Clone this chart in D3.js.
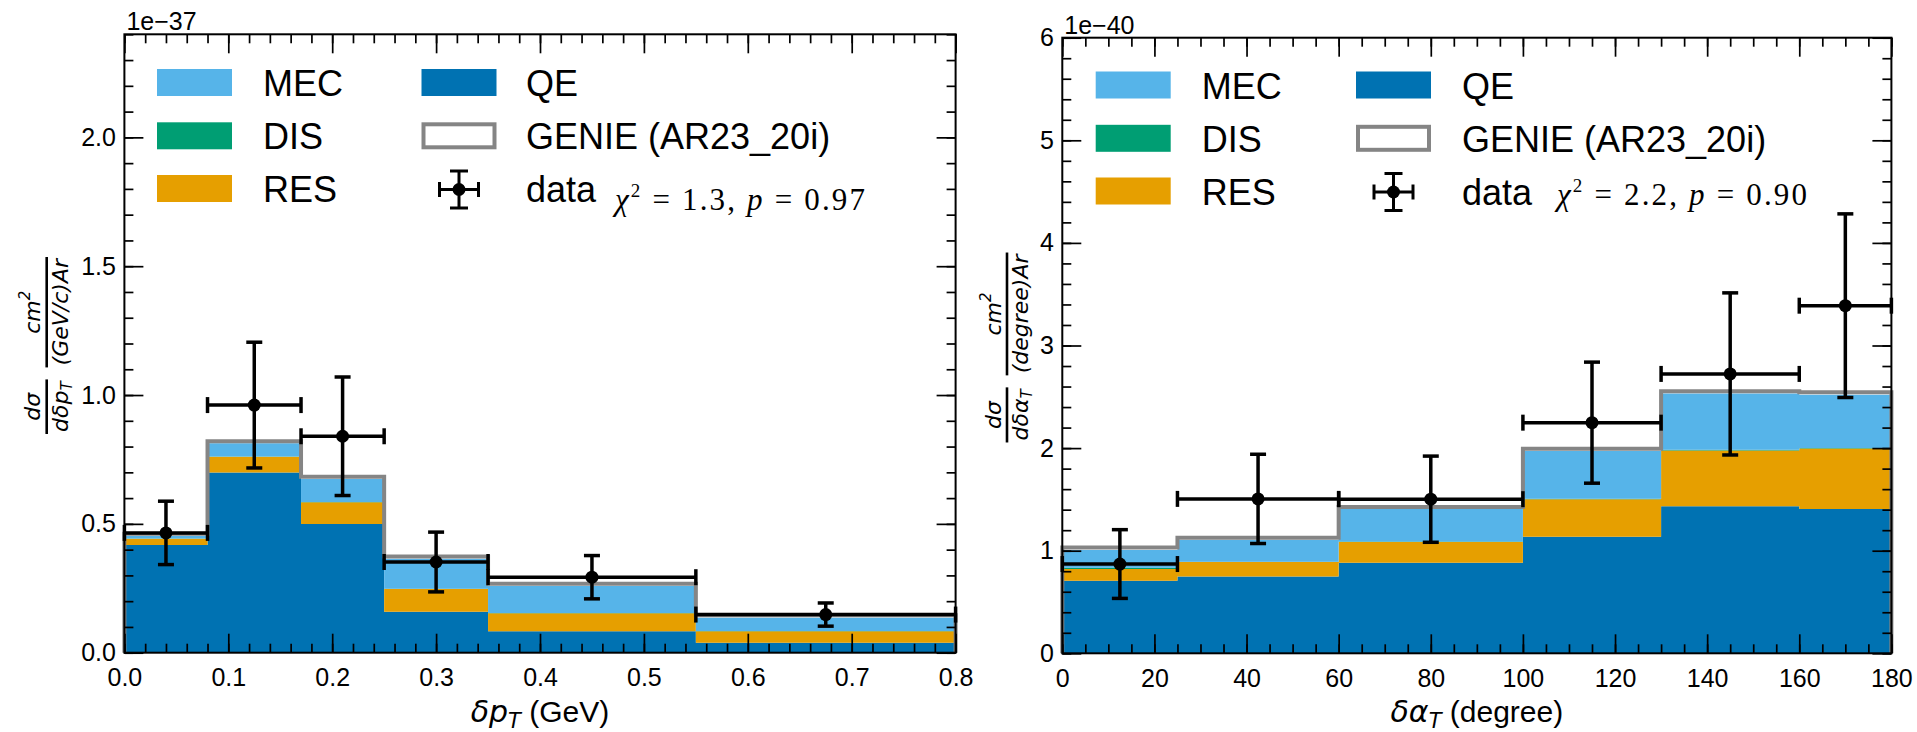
<!DOCTYPE html>
<html><head><meta charset="utf-8">
<script src="https://cdn.jsdelivr.net/npm/d3@7"></script>
<style>body{margin:0;background:#fff} svg{display:block}</style>
</head><body>
<svg id="c" width="1917" height="732"></svg>
<script>
// ---------------- data ----------------
const componentKeys = ["QE", "RES", "DIS", "MEC"];
const legendCol1 = ["MEC", "DIS", "RES"];
const componentColors = {QE: "#0072B2", RES: "#E69F00", DIS: "#009E73", MEC: "#56B4E9"};

// Left panel: delta p_T (GeV), units 1e-37
const ptEdges   = [0, 0.08, 0.17, 0.25, 0.35, 0.55, 0.8];
const ptQE      = [0.418, 0.699, 0.499, 0.159, 0.083, 0.039];
const ptRES     = [0.024, 0.061, 0.085, 0.088, 0.070, 0.044];
const ptDIS     = [0.001, 0.001, 0.001, 0.001, 0.001, 0.001];
const ptMEC     = [0.010, 0.052, 0.089, 0.117, 0.105, 0.052];
const ptGenie   = [0.462, 0.821, 0.683, 0.373, 0.268, 0.145];
const ptDataX   = [0.04, 0.125, 0.21, 0.30, 0.45, 0.675];
const ptData    = [0.465, 0.961, 0.840, 0.352, 0.293, 0.148];
const ptErr     = [0.123, 0.244, 0.230, 0.116, 0.084, 0.045];
const ptXTicks  = [0, 0.1, 0.2, 0.3, 0.4, 0.5, 0.6, 0.7, 0.8];
const ptXMinor  = d3.range(0, 41).map(i => i / 50);
const ptYTicks  = [0, 0.5, 1.0, 1.5, 2.0];
const ptYMinor  = d3.range(0, 25).map(i => i / 10);
const ptChi2 = "1.3", ptP = "0.97", ptExp = "1e\u221237";

// Right panel: delta alpha_T (degree), units 1e-40
const atEdges   = [0, 25, 60, 100, 130, 160, 180];
const atQE      = [0.707, 0.749, 0.883, 1.137, 1.433, 1.407];
const atRES     = [0.114, 0.140, 0.202, 0.365, 0.544, 0.590];
const atDIS     = [0.012, 0.004, 0.004, 0.004, 0.008, 0.004];
const atMEC     = [0.174, 0.211, 0.318, 0.465, 0.546, 0.520];
const atGenie   = [1.030, 1.127, 1.427, 1.993, 2.554, 2.544];
const atDataX   = [12.5, 42.5, 80, 115, 145, 170];
const atData    = [0.870, 1.505, 1.502, 2.248, 2.723, 3.388];
const atErr     = [0.335, 0.435, 0.420, 0.590, 0.790, 0.895];
const atXTicks  = [0, 20, 40, 60, 80, 100, 120, 140, 160, 180];
const atXMinor  = d3.range(0, 37).map(i => i * 5);
const atYTicks  = [0, 1, 2, 3, 4, 5, 6];
const atYMinor  = d3.range(0, 31).map(i => i / 5);
const atChi2 = "2.2", atP = "0.90", atExp = "1e\u221240";

// ---------------- drawing ----------------
const svg = d3.select("#c");
const SANS = "'Liberation Sans', Arial, Helvetica, sans-serif";
const MATH = "'DejaVu Sans', sans-serif";
const SERIF = "'Liberation Serif', 'Times New Roman', serif";
const GREY = "#858585";

function drawPanel(cfg) {
  const x = d3.scaleLinear().domain(cfg.xDomain).range([cfg.left, cfg.right]);
  const y = d3.scaleLinear().domain(cfg.yDomain).range([cfg.bottom, cfg.top]);
  const g = svg.append("g");
  const n = cfg.edges.length - 1;

  // stacked histogram
  const rows = d3.range(n).map(i => ({QE: cfg.qe[i], RES: cfg.res[i], DIS: cfg.dis[i], MEC: cfg.mec[i]}));
  const layers = d3.stack().keys(componentKeys)(rows);
  const area = d3.area().x(p => x(p.x)).y0(p => y(p.y0)).y1(p => y(p.y1));
  layers.forEach(layer => {
    const pts = [];
    layer.forEach((d, i) => {
      pts.push({x: cfg.edges[i], y0: d[0], y1: d[1]});
      pts.push({x: cfg.edges[i + 1], y0: d[0], y1: d[1]});
    });
    g.append("path").attr("d", area(pts)).attr("fill", componentColors[layer.key]);
  });

  // GENIE total outline
  const opts = [{x: cfg.edges[0], v: 0}];
  cfg.genie.forEach((v, i) => { opts.push({x: cfg.edges[i], v}); opts.push({x: cfg.edges[i + 1], v}); });
  opts.push({x: cfg.edges[n], v: 0});
  g.append("path").attr("d", d3.line().x(p => x(p.x)).y(p => y(p.v))(opts))
    .attr("fill", "none").attr("stroke", GREY).attr("stroke-width", 4);

  // data error bars
  const cap = 8, lw = 3.5;
  cfg.dataX.forEach((cx, i) => {
    const x0 = x(cfg.edges[i]), x1 = x(cfg.edges[i + 1]);
    const yv = y(cfg.data[i]), yt = y(cfg.data[i] + cfg.err[i]), yb = y(cfg.data[i] - cfg.err[i]);
    const px = x(cx);
    const eg = g.append("g").attr("stroke", "#000").attr("stroke-width", lw);
    eg.append("line").attr("x1", x0).attr("x2", x1).attr("y1", yv).attr("y2", yv);
    eg.append("line").attr("x1", px).attr("x2", px).attr("y1", yt).attr("y2", yb);
    eg.append("line").attr("x1", px - cap).attr("x2", px + cap).attr("y1", yt).attr("y2", yt);
    eg.append("line").attr("x1", px - cap).attr("x2", px + cap).attr("y1", yb).attr("y2", yb);
    eg.append("line").attr("x1", x0).attr("x2", x0).attr("y1", yv - cap).attr("y2", yv + cap);
    eg.append("line").attr("x1", x1).attr("x2", x1).attr("y1", yv - cap).attr("y2", yv + cap);
    g.append("circle").attr("cx", px).attr("cy", yv).attr("r", 6.5).attr("fill", "#000");
  });

  // axes (ticks inward on all sides)
  function styleAxis(sel) {
    sel.select(".domain").remove();
    sel.selectAll("line").attr("stroke", "#000").attr("stroke-width", 1.7);
    sel.selectAll("text").attr("font-family", SANS).attr("font-size", 25).attr("fill", "#000");
  }
  const ax = svg.append("g");
  ax.append("g").attr("transform", `translate(0,${cfg.bottom})`)
    .call(d3.axisBottom(x).tickValues(cfg.xMinor).tickFormat("").tickSizeInner(-9).tickSizeOuter(0)).call(styleAxis);
  ax.append("g").attr("transform", `translate(0,${cfg.bottom})`)
    .call(d3.axisBottom(x).tickValues(cfg.xTicks).tickFormat(cfg.xFmt).tickSizeInner(-19).tickSizeOuter(0).tickPadding(16)).call(styleAxis);
  ax.append("g").attr("transform", `translate(0,${cfg.top})`)
    .call(d3.axisTop(x).tickValues(cfg.xMinor).tickFormat("").tickSizeInner(-9).tickSizeOuter(0)).call(styleAxis);
  ax.append("g").attr("transform", `translate(0,${cfg.top})`)
    .call(d3.axisTop(x).tickValues(cfg.xTicks).tickFormat("").tickSizeInner(-19).tickSizeOuter(0)).call(styleAxis);
  ax.append("g").attr("transform", `translate(${cfg.left},0)`)
    .call(d3.axisLeft(y).tickValues(cfg.yMinor).tickFormat("").tickSizeInner(-9).tickSizeOuter(0)).call(styleAxis);
  ax.append("g").attr("transform", `translate(${cfg.left},0)`)
    .call(d3.axisLeft(y).tickValues(cfg.yTicks).tickFormat(cfg.yFmt).tickSizeInner(-19).tickSizeOuter(0).tickPadding(8.5)).call(styleAxis);
  ax.append("g").attr("transform", `translate(${cfg.right},0)`)
    .call(d3.axisRight(y).tickValues(cfg.yMinor).tickFormat("").tickSizeInner(-9).tickSizeOuter(0)).call(styleAxis);
  ax.append("g").attr("transform", `translate(${cfg.right},0)`)
    .call(d3.axisRight(y).tickValues(cfg.yTicks).tickFormat("").tickSizeInner(-19).tickSizeOuter(0)).call(styleAxis);

  // frame
  svg.append("rect").attr("x", cfg.left).attr("y", cfg.top)
    .attr("width", cfg.right - cfg.left).attr("height", cfg.bottom - cfg.top)
    .attr("fill", "none").attr("stroke", "#000").attr("stroke-width", 2);

  // offset text
  svg.append("text").attr("x", cfg.left + 2).attr("y", cfg.top - 4)
    .attr("font-family", SANS).attr("font-size", 25).text(cfg.exp);

  // x label
  const xl = svg.append("text").attr("x", (cfg.left + cfg.right) / 2).attr("y", 722)
    .attr("text-anchor", "middle").attr("font-size", 30).attr("font-family", SANS);
  xl.append("tspan").attr("font-family", MATH).attr("font-style", "italic").text(cfg.xSym);
  xl.append("tspan").attr("font-family", MATH).attr("font-style", "italic").attr("font-size", 21).attr("dy", 6).text("T");
  xl.append("tspan").attr("dy", -6).text(" " + cfg.xUnit);

  // y label: two stacked fractions, rotated
  const yg = svg.append("g").attr("transform", `translate(${cfg.yLabelX},${(cfg.top + cfg.bottom) / 2 + 2}) rotate(-90)`);
  const inner = yg.append("g");
  let cursor = 0;
  cfg.yFracs.forEach((f, k) => {
    const fg = inner.append("g");
    const num = fg.append("text").attr("y", -6.5).attr("font-family", MATH).attr("font-style", "italic").attr("font-size", 22);
    f.num.forEach(p => { const t = num.append("tspan").text(p.t); if (p.sup) t.attr("font-size", 15).attr("dy", -10); if (p.after) t.attr("dy", 10); });
    const den = fg.append("text").attr("y", 21).attr("font-family", MATH).attr("font-style", "italic").attr("font-size", 22);
    f.den.forEach(p => { const t = den.append("tspan").text(p.t); if (p.sub) t.attr("font-size", 15).attr("dy", 4); if (p.up) t.attr("font-style", "normal"); });
    const w = Math.max(num.node().getComputedTextLength(), den.node().getComputedTextLength()) + 4;
    num.attr("x", w / 2).attr("text-anchor", "middle");
    den.attr("x", w / 2).attr("text-anchor", "middle");
    fg.append("line").attr("x1", 0).attr("x2", w).attr("y1", 0).attr("y2", 0).attr("stroke", "#000").attr("stroke-width", 2.6);
    fg.attr("transform", `translate(${cursor},0)`);
    cursor += w + 12;
  });
  inner.attr("transform", `translate(${-(cursor - 12) / 2},0)`);

  // legend
  const L = cfg.legend;
  const pw = 75, ph = 27;
  legendCol1.forEach((key, r) => {
    const cy = L.rows[r];
    svg.append("rect").attr("x", L.px1).attr("y", cy - ph / 2).attr("width", pw).attr("height", ph).attr("fill", componentColors[key]);
    svg.append("text").attr("x", L.tx1).attr("y", cy + 13.5).attr("font-family", SANS).attr("font-size", 36).text(key);
  });
  // QE
  svg.append("rect").attr("x", L.px2).attr("y", L.rows[0] - ph / 2).attr("width", pw).attr("height", ph).attr("fill", componentColors.QE);
  svg.append("text").attr("x", L.tx2).attr("y", L.rows[0] + 13.5).attr("font-family", SANS).attr("font-size", 36).text("QE");
  // GENIE
  svg.append("rect").attr("x", L.px2 + 2).attr("y", L.rows[1] - ph / 2 + 2).attr("width", pw - 4).attr("height", ph - 4)
    .attr("fill", "#fff").attr("stroke", GREY).attr("stroke-width", 4);
  svg.append("text").attr("x", L.tx2).attr("y", L.rows[1] + 13.5).attr("font-family", SANS).attr("font-size", 36).text("GENIE (AR23_20i)");
  // data
  const mx = L.px2 + pw / 2, my = L.rows[2] + 1;
  const lg = svg.append("g").attr("stroke", "#000").attr("stroke-width", 3);
  lg.append("line").attr("x1", mx - 19.5).attr("x2", mx + 19.5).attr("y1", my).attr("y2", my);
  lg.append("line").attr("x1", mx).attr("x2", mx).attr("y1", my - 18.5).attr("y2", my + 18.5);
  lg.append("line").attr("x1", mx - 9).attr("x2", mx + 9).attr("y1", my - 18.5).attr("y2", my - 18.5);
  lg.append("line").attr("x1", mx - 9).attr("x2", mx + 9).attr("y1", my + 18.5).attr("y2", my + 18.5);
  lg.append("line").attr("x1", mx - 19.5).attr("x2", mx - 19.5).attr("y1", my - 7.5).attr("y2", my + 7.5);
  lg.append("line").attr("x1", mx + 19.5).attr("x2", mx + 19.5).attr("y1", my - 7.5).attr("y2", my + 7.5);
  svg.append("circle").attr("cx", mx).attr("cy", my).attr("r", 6.5).attr("fill", "#000");
  svg.append("text").attr("x", L.tx2).attr("y", L.rows[2] + 13.5).attr("font-family", SANS).attr("font-size", 36).text("data");

  // chi2 text
  const ct = svg.append("text").attr("x", cfg.chiX).attr("y", cfg.chiY)
    .attr("font-family", SERIF).attr("font-size", 31).attr("textLength", 250).attr("lengthAdjust", "spacing");
  ct.append("tspan").attr("font-style", "italic").text("\u03c7");
  ct.append("tspan").attr("font-size", 19).attr("dy", -13).text("2");
  ct.append("tspan").attr("dy", 13).text(" = " + cfg.chi2 + ", ");
  ct.append("tspan").attr("font-style", "italic").text("p");
  ct.append("tspan").text(" = " + cfg.p);
}

drawPanel({
  edges: ptEdges, qe: ptQE, res: ptRES, dis: ptDIS, mec: ptMEC, genie: ptGenie,
  dataX: ptDataX, data: ptData, err: ptErr,
  xDomain: [0, 0.8], yDomain: [0, 2.4],
  left: 124.4, right: 955.6, top: 34.3, bottom: 652.7,
  xTicks: ptXTicks, xMinor: ptXMinor, yTicks: ptYTicks, yMinor: ptYMinor,
  xFmt: d3.format(".1f"), yFmt: d3.format(".1f"),
  exp: ptExp, xSym: "\u03b4p", xUnit: "(GeV)",
  yLabelX: 46.7,
  yFracs: [
    {num: [{t: "d\u03c3"}], den: [{t: "d\u03b4p"}, {t: "T", sub: true}]},
    {num: [{t: "cm"}, {t: "2", sup: true}], den: [{t: "(GeV/c)Ar"}]}
  ],
  legend: {px1: 157, tx1: 263, px2: 421.5, tx2: 526, rows: [82.5, 135.8, 188.5]},
  chiX: 615, chiY: 210, chi2: ptChi2, p: ptP
});

drawPanel({
  edges: atEdges, qe: atQE, res: atRES, dis: atDIS, mec: atMEC, genie: atGenie,
  dataX: atDataX, data: atData, err: atErr,
  xDomain: [0, 180], yDomain: [0, 6],
  left: 1062.3, right: 1891.4, top: 37.7, bottom: 653.3,
  xTicks: atXTicks, xMinor: atXMinor, yTicks: atYTicks, yMinor: atYMinor,
  xFmt: d3.format("d"), yFmt: d3.format("d"),
  exp: atExp, xSym: "\u03b4\u03b1", xUnit: "(degree)",
  yLabelX: 1007,
  yFracs: [
    {num: [{t: "d\u03c3"}], den: [{t: "d\u03b4\u03b1"}, {t: "T", sub: true}]},
    {num: [{t: "cm"}, {t: "2", sup: true}], den: [{t: "(degree)Ar"}]}
  ],
  legend: {px1: 1095.7, tx1: 1201.7, px2: 1356, tx2: 1462, rows: [85, 138.3, 191]},
  chiX: 1557, chiY: 205, chi2: atChi2, p: atP
});
</script>
</body></html>
